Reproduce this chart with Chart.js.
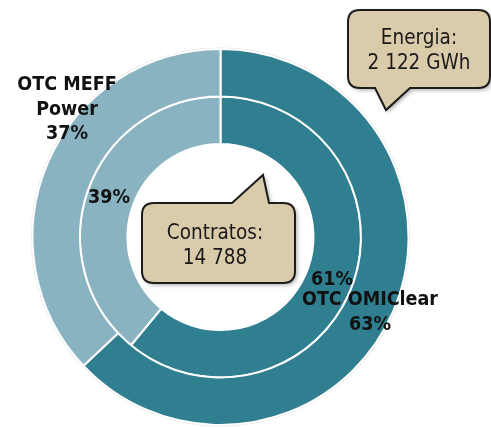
<!DOCTYPE html>
<html>
<head>
<meta charset="utf-8">
<script src="https://cdn.jsdelivr.net/npm/chart.js@4.4.1/dist/chart.umd.min.js"></script>
<style>
  html, body { margin: 0; padding: 0; background: #fff; }
  #c { display: block; }
</style>
</head>
<body>
<canvas id="c" width="491" height="428"></canvas>
<script>
    // segments, clockwise from 12 o'clock
    const segments = ['OTC OMIClear', 'OTC MEFF Power'];
    const energia = [63, 37];     // outer ring (%)
    const contratos = [61, 39];   // inner ring (%)
    const totalEnergia = '2 122 GWh';
    const totalContratos = '14 788';

    const COLORS = ['#2f7f91', '#8ab3c1'];
    const TAN = '#dacbab';
    const FONT = "'DejaVu Sans Condensed', 'DejaVu Sans', sans-serif";

    function bubble(ctx, b) {
        const { x, y, w, h, r, tail, edge } = b;
        ctx.beginPath();
        ctx.moveTo(x + r, y);
        if (edge === 'top') {
            ctx.lineTo(tail[0], y);
            ctx.lineTo(tail[1], tail[2]);
            ctx.lineTo(tail[3], y);
        }
        ctx.lineTo(x + w - r, y);
        ctx.quadraticCurveTo(x + w, y, x + w, y + r);
        ctx.lineTo(x + w, y + h - r);
        ctx.quadraticCurveTo(x + w, y + h, x + w - r, y + h);
        if (edge === 'bottom') {
            ctx.lineTo(tail[3], y + h);
            ctx.lineTo(tail[1], tail[2]);
            ctx.lineTo(tail[0], y + h);
        }
        ctx.lineTo(x + r, y + h);
        ctx.quadraticCurveTo(x, y + h, x, y + h - r);
        ctx.lineTo(x, y + r);
        ctx.quadraticCurveTo(x, y, x + r, y);
        ctx.closePath();

        ctx.save();
        ctx.shadowColor = 'rgba(0,0,0,0.35)';
        ctx.shadowBlur = 4;
        ctx.shadowOffsetX = 2;
        ctx.shadowOffsetY = 2;
        ctx.fillStyle = TAN;
        ctx.fill();
        ctx.restore();
        ctx.lineWidth = 2;
        ctx.strokeStyle = '#1c1c1c';
        ctx.stroke();

        ctx.fillStyle = '#1a1a1a';
        ctx.font = '20.5px ' + FONT;
        ctx.textAlign = 'center';
        ctx.textBaseline = 'alphabetic';
        b.lines.forEach((t, i) => ctx.fillText(t, b.tx, b.ty + i * 25));
    }

    const labelsPlugin = {
        id: 'ringLabels',
        beforeDatasetsDraw(chart) {
            // faint grey rim round the outer ring
            const ctx = chart.ctx;
            const arc = chart.getDatasetMeta(0).data[0];
            ctx.save();
            ctx.beginPath();
            ctx.arc(arc.x, arc.y, arc.outerRadius + 0.5, 0, Math.PI * 2);
            ctx.strokeStyle = 'rgba(0,0,0,0.12)';
            ctx.lineWidth = 2;
            ctx.stroke();
            ctx.restore();
        },
        afterDraw(chart) {
            const ctx = chart.ctx;
            const arc = chart.getDatasetMeta(0).data[0];
            const cx = arc.x, cy = arc.y;

            ctx.save();
            ctx.fillStyle = '#111';
            ctx.font = 'bold 19.5px ' + FONT;
            ctx.textAlign = 'center';
            ctx.textBaseline = 'alphabetic';
            const put = (lines, dx, dy) => lines.forEach((t, i) => ctx.fillText(t, cx + dx, cy + dy + i * 24.5));

            put(['OTC MEFF', 'Power', energia[1] + '%'], -153.5, -147);
            put([contratos[1] + '%'], -111.5, -34);
            put([contratos[0] + '%'], 111.5, 48);
            put([segments[0], energia[0] + '%'], 149.5, 68);

            bubble(ctx, {
                x: 348, y: 10, w: 142, h: 78, r: 12, edge: 'bottom',
                tail: [375, 386, 110, 410],
                lines: ['Energia:', totalEnergia], tx: 419, ty: 44
            });
            bubble(ctx, {
                x: 142, y: 203, w: 153, h: 80, r: 12, edge: 'top',
                tail: [232, 263, 175, 269],
                lines: ['Contratos:', totalContratos], tx: 215, ty: 239
            });
            ctx.restore();
        }
    };

    new Chart(document.getElementById('c'), {
        type: 'doughnut',
        data: {
            labels: segments,
            datasets: [
                { data: energia, backgroundColor: COLORS, borderColor: '#fff', borderWidth: 2 },
                { data: contratos, backgroundColor: COLORS, borderColor: '#fff', borderWidth: 2 }
            ]
        },
        options: {
            responsive: false,
            animation: false,
            devicePixelRatio: 1,
            radius: 188,
            cutout: 94,
            layout: { padding: { left: 0, right: 50, top: 46, bottom: 0 } },
            plugins: {
                legend: { display: false },
                tooltip: { enabled: false }
            }
        },
        plugins: [labelsPlugin]
    });
</script>
</body>
</html>
